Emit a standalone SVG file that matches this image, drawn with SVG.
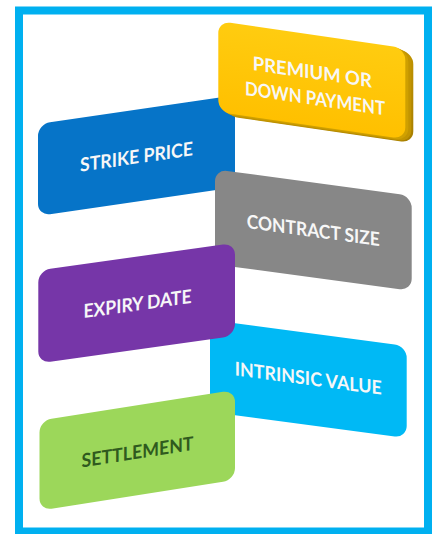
<svg xmlns="http://www.w3.org/2000/svg" width="438" height="534" viewBox="0 0 438 534">
  <style>
    .lbl { font-family: Lato, "Open Sans", "Liberation Sans", sans-serif; font-weight: bold; font-size: 19px; text-anchor: middle; fill: #F7F7F7; }
    .dark { fill: #2F5A1E; }
    .card { stroke: none; }
  </style>
  <defs>
    <linearGradient id="gold-side" x1="0" y1="0" x2="1" y2="1">
      <stop offset="0" stop-color="#D9A800"/>
      <stop offset="1" stop-color="#A67E00"/>
    </linearGradient>
    <linearGradient id="gold-face" x1="0" y1="0" x2="0" y2="1">
      <stop offset="0" stop-color="#FFCC10"/>
      <stop offset="1" stop-color="#FFC000"/>
    </linearGradient>
  </defs>

  <rect x="0" y="0" width="438" height="534" fill="#FFFFFF"/>
  <rect id="frame" x="19" y="10.5" width="409" height="521" fill="#FFFFFF" stroke="#00B0F0" stroke-width="8"/>

  <g id="strike-price" transform="translate(38,123.9) skewY(-8.31)">
    <rect class="card" x="0" y="0" width="197" height="92" rx="12" fill="#0674C8"/>
    <text class="lbl" x="98.5" y="54" textLength="113" lengthAdjust="spacingAndGlyphs">STRIKE PRICE</text>
  </g>

  <g id="premium" transform="translate(218.3,21.1) skewY(8.25)">
    <rect x="8" y="2.8" width="187" height="91" rx="12" fill="url(#gold-side)"/>
    <rect x="6" y="2.1" width="187" height="91" rx="12" fill="#C29400"/>
    <rect x="3" y="1.1" width="187" height="91" rx="12" fill="#CFA000"/>
    <rect class="card" x="0" y="0" width="187" height="91" rx="12" fill="url(#gold-face)"/>
    <text class="lbl" x="94" y="44" textLength="119" lengthAdjust="spacingAndGlyphs">PREMIUM OR</text>
    <text class="lbl" x="96.7" y="70" textLength="140" lengthAdjust="spacingAndGlyphs">DOWN PAYMENT</text>
  </g>

  <g id="contract-size" transform="translate(215,169.3) skewY(7.69)">
    <rect class="card" x="0" y="0" width="196.7" height="95" rx="12" fill="#878787"/>
    <text class="lbl" x="98.3" y="54.5" textLength="133" lengthAdjust="spacingAndGlyphs">CONTRACT SIZE</text>
  </g>

  <g id="intrinsic-value" transform="translate(210,320) skewY(7.52)">
    <rect class="card" x="0" y="0" width="196.7" height="92" rx="12" fill="#00B9F5"/>
    <text class="lbl" x="98.3" y="52" textLength="147" lengthAdjust="spacingAndGlyphs">INTRINSIC VALUE</text>
  </g>

  <g id="expiry-date" transform="translate(38.3,270.4) skewY(-7.97)">
    <rect class="card" x="0" y="0" width="196.7" height="93" rx="12" fill="#7636A8"/>
    <text class="lbl" x="99.2" y="54" textLength="108" lengthAdjust="spacingAndGlyphs">EXPIRY DATE</text>
  </g>

  <g id="settlement" transform="translate(39.5,420.5) skewY(-8.87)">
    <rect class="card" x="0" y="0" width="195.5" height="90" rx="12" fill="#9CD75A"/>
    <text class="lbl dark" x="98" y="53.5" textLength="112" lengthAdjust="spacingAndGlyphs">SETTLEMENT</text>
  </g>

  <g id="connectors"></g>
</svg>
